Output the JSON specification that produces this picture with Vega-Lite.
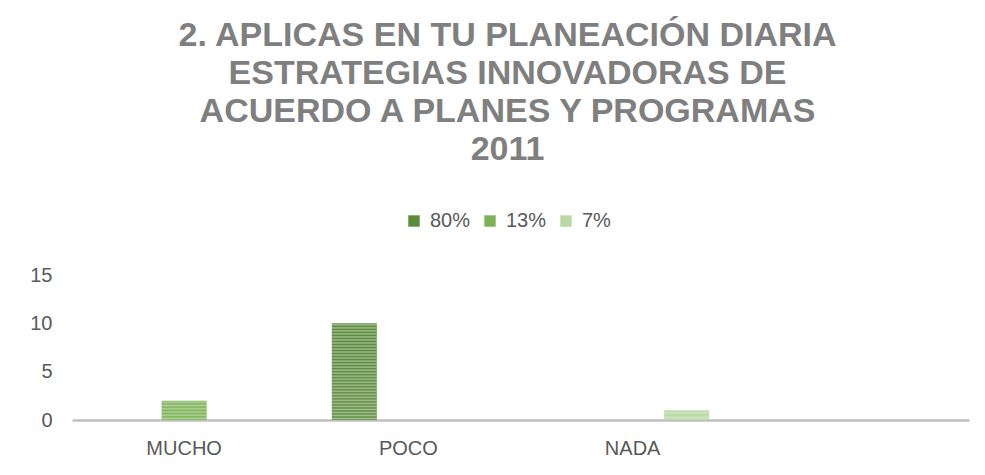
{
  "$schema": "https://vega.github.io/schema/vega-lite/v6.json",
  "width": 897,
  "height": 145,
  "autosize": {"type": "none"},
  "padding": {"left": 72, "top": 275, "right": 16, "bottom": 55},
  "background": "white",
  "config": {"view": {"stroke": null}, "font": "Liberation Sans"},
  "title": {
    "text": ["2. APLICAS EN TU PLANEACIÓN DIARIA", "ESTRATEGIAS INNOVADORAS DE", "ACUERDO A PLANES Y PROGRAMAS", "2011"],
    "fontSize": 34,
    "fontWeight": "bold",
    "color": "#7F7F7F",
    "lineHeight": 38,
    "anchor": "middle",
    "frame": "group",
    "offset": 44,
    "dx": -13
  },
  "data": {
    "values": [
      {"categoria": "MUCHO", "serie": "13%", "valor": 2},
      {"categoria": "POCO", "serie": "80%", "valor": 10},
      {"categoria": "NADA", "serie": "7%", "valor": 1}
    ]
  },
  "encoding": {
    "x": {
      "field": "categoria",
      "type": "nominal",
      "sort": null,
      "scale": {"domain": ["MUCHO", "POCO", "NADA", " "], "paddingInner": 0.277, "paddingOuter": 0.1385},
      "axis": {
        "title": null,
        "labelAngle": 0,
        "labelFontSize": 20,
        "labelColor": "#595959",
        "labelPadding": 18,
        "ticks": false,
        "domainColor": "#BFBFBF",
        "domainWidth": 2.5,
        "grid": false
      }
    },
    "xOffset": {
      "field": "serie",
      "type": "nominal",
      "scale": {"domain": ["80%", "13%", "7%"], "paddingInner": 0.167, "paddingOuter": 0.0835}
    },
    "y": {
      "field": "valor",
      "type": "quantitative",
      "scale": {"domain": [0, 15]},
      "axis": {
        "title": null,
        "values": [0, 5, 10, 15],
        "domain": false,
        "ticks": false,
        "grid": false,
        "labelFontSize": 20,
        "labelColor": "#595959",
        "labelPadding": 20
      }
    }
  },
  "layer": [
    {
      "mark": {"type": "bar"},
      "encoding": {
        "color": {
          "field": "serie",
          "type": "nominal",
          "scale": {"domain": ["80%", "13%", "7%"], "range": ["#5A8A3A", "#7DB356", "#B9D9A4"]},
          "legend": {
            "title": null,
            "orient": "none",
            "direction": "horizontal",
            "legendX": 332,
            "legendY": -64,
            "symbolType": "square",
            "symbolSize": 130,
            "symbolStrokeWidth": 0,
            "labelFontSize": 20,
            "labelColor": "#595959",
            "labelOffset": 6,
            "columnPadding": 9
          }
        }
      }
    },
    {
      "transform": [{"filter": "datum.serie === '80%'"}],
      "mark": {
        "type": "bar",
        "color": {
          "gradient": "linear", "x1": 0, "y1": 0, "x2": 0, "y2": 1,
          "stops": [
            {"offset": 0, "color": "rgba(255,255,255,0)"},
            {"offset": 0.015625, "color": "rgba(255,255,255,0.45)"},
            {"offset": 0.03125, "color": "rgba(255,255,255,0)"},
            {"offset": 0.046875, "color": "rgba(255,255,255,0.45)"},
            {"offset": 0.0625, "color": "rgba(255,255,255,0)"},
            {"offset": 0.078125, "color": "rgba(255,255,255,0.45)"},
            {"offset": 0.09375, "color": "rgba(255,255,255,0)"},
            {"offset": 0.109375, "color": "rgba(255,255,255,0.45)"},
            {"offset": 0.125, "color": "rgba(255,255,255,0)"},
            {"offset": 0.140625, "color": "rgba(255,255,255,0.45)"},
            {"offset": 0.15625, "color": "rgba(255,255,255,0)"},
            {"offset": 0.171875, "color": "rgba(255,255,255,0.45)"},
            {"offset": 0.1875, "color": "rgba(255,255,255,0)"},
            {"offset": 0.203125, "color": "rgba(255,255,255,0.45)"},
            {"offset": 0.21875, "color": "rgba(255,255,255,0)"},
            {"offset": 0.234375, "color": "rgba(255,255,255,0.45)"},
            {"offset": 0.25, "color": "rgba(255,255,255,0)"},
            {"offset": 0.265625, "color": "rgba(255,255,255,0.45)"},
            {"offset": 0.28125, "color": "rgba(255,255,255,0)"},
            {"offset": 0.296875, "color": "rgba(255,255,255,0.45)"},
            {"offset": 0.3125, "color": "rgba(255,255,255,0)"},
            {"offset": 0.328125, "color": "rgba(255,255,255,0.45)"},
            {"offset": 0.34375, "color": "rgba(255,255,255,0)"},
            {"offset": 0.359375, "color": "rgba(255,255,255,0.45)"},
            {"offset": 0.375, "color": "rgba(255,255,255,0)"},
            {"offset": 0.390625, "color": "rgba(255,255,255,0.45)"},
            {"offset": 0.40625, "color": "rgba(255,255,255,0)"},
            {"offset": 0.421875, "color": "rgba(255,255,255,0.45)"},
            {"offset": 0.4375, "color": "rgba(255,255,255,0)"},
            {"offset": 0.453125, "color": "rgba(255,255,255,0.45)"},
            {"offset": 0.46875, "color": "rgba(255,255,255,0)"},
            {"offset": 0.484375, "color": "rgba(255,255,255,0.45)"},
            {"offset": 0.5, "color": "rgba(255,255,255,0)"},
            {"offset": 0.515625, "color": "rgba(255,255,255,0.45)"},
            {"offset": 0.53125, "color": "rgba(255,255,255,0)"},
            {"offset": 0.546875, "color": "rgba(255,255,255,0.45)"},
            {"offset": 0.5625, "color": "rgba(255,255,255,0)"},
            {"offset": 0.578125, "color": "rgba(255,255,255,0.45)"},
            {"offset": 0.59375, "color": "rgba(255,255,255,0)"},
            {"offset": 0.609375, "color": "rgba(255,255,255,0.45)"},
            {"offset": 0.625, "color": "rgba(255,255,255,0)"},
            {"offset": 0.640625, "color": "rgba(255,255,255,0.45)"},
            {"offset": 0.65625, "color": "rgba(255,255,255,0)"},
            {"offset": 0.671875, "color": "rgba(255,255,255,0.45)"},
            {"offset": 0.6875, "color": "rgba(255,255,255,0)"},
            {"offset": 0.703125, "color": "rgba(255,255,255,0.45)"},
            {"offset": 0.71875, "color": "rgba(255,255,255,0)"},
            {"offset": 0.734375, "color": "rgba(255,255,255,0.45)"},
            {"offset": 0.75, "color": "rgba(255,255,255,0)"},
            {"offset": 0.765625, "color": "rgba(255,255,255,0.45)"},
            {"offset": 0.78125, "color": "rgba(255,255,255,0)"},
            {"offset": 0.796875, "color": "rgba(255,255,255,0.45)"},
            {"offset": 0.8125, "color": "rgba(255,255,255,0)"},
            {"offset": 0.828125, "color": "rgba(255,255,255,0.45)"},
            {"offset": 0.84375, "color": "rgba(255,255,255,0)"},
            {"offset": 0.859375, "color": "rgba(255,255,255,0.45)"},
            {"offset": 0.875, "color": "rgba(255,255,255,0)"},
            {"offset": 0.890625, "color": "rgba(255,255,255,0.45)"},
            {"offset": 0.90625, "color": "rgba(255,255,255,0)"},
            {"offset": 0.921875, "color": "rgba(255,255,255,0.45)"},
            {"offset": 0.9375, "color": "rgba(255,255,255,0)"},
            {"offset": 0.953125, "color": "rgba(255,255,255,0.45)"},
            {"offset": 0.96875, "color": "rgba(255,255,255,0)"},
            {"offset": 0.984375, "color": "rgba(255,255,255,0.45)"},
            {"offset": 1, "color": "rgba(255,255,255,0)"}
          ]
        }
      }
    },
    {
      "transform": [{"filter": "datum.serie === '13%'"}],
      "mark": {
        "type": "bar",
        "color": {
          "gradient": "linear", "x1": 0, "y1": 0, "x2": 0, "y2": 1,
          "stops": [
            {"offset": 0, "color": "rgba(255,255,255,0)"},
            {"offset": 0.0833, "color": "rgba(255,255,255,0.4)"},
            {"offset": 0.1667, "color": "rgba(255,255,255,0)"},
            {"offset": 0.25, "color": "rgba(255,255,255,0.4)"},
            {"offset": 0.3333, "color": "rgba(255,255,255,0)"},
            {"offset": 0.4167, "color": "rgba(255,255,255,0.4)"},
            {"offset": 0.5, "color": "rgba(255,255,255,0)"},
            {"offset": 0.5833, "color": "rgba(255,255,255,0.4)"},
            {"offset": 0.6667, "color": "rgba(255,255,255,0)"},
            {"offset": 0.75, "color": "rgba(255,255,255,0.4)"},
            {"offset": 0.8333, "color": "rgba(255,255,255,0)"},
            {"offset": 0.9167, "color": "rgba(255,255,255,0.4)"},
            {"offset": 1, "color": "rgba(255,255,255,0)"}
          ]
        }
      }
    },
    {
      "transform": [{"filter": "datum.serie === '7%'"}],
      "mark": {
        "type": "bar",
        "color": {
          "gradient": "linear", "x1": 0, "y1": 0, "x2": 0, "y2": 1,
          "stops": [
            {"offset": 0, "color": "rgba(255,255,255,0)"},
            {"offset": 0.25, "color": "rgba(255,255,255,0.3)"},
            {"offset": 0.5, "color": "rgba(255,255,255,0)"},
            {"offset": 0.75, "color": "rgba(255,255,255,0.3)"},
            {"offset": 1, "color": "rgba(255,255,255,0)"}
          ]
        }
      }
    }
  ]
}
